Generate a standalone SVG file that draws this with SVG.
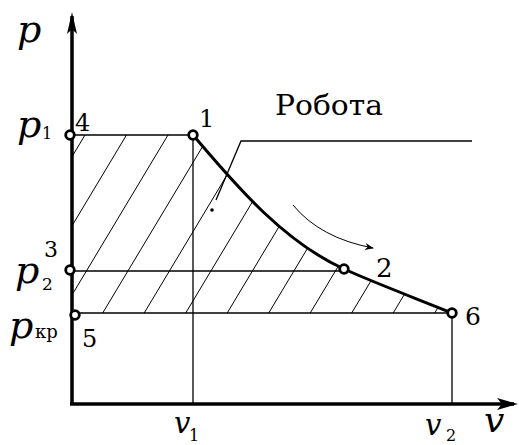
<svg xmlns="http://www.w3.org/2000/svg" width="519" height="445" viewBox="0 0 519 445">
<style>
.thin{stroke:#000;stroke-width:1.3;fill:none}
.hatch{stroke:#000;stroke-width:1;fill:none}
.axis{stroke:#000;stroke-width:3.5;fill:none}
.curve{stroke:#000;stroke-width:3;fill:none}
.pt{fill:#fff;stroke:#000;stroke-width:2.8}
text{font-family:'DejaVu Serif',serif;fill:#000}
.var{font-style:italic}
</style>
<defs>
<clipPath id="area">
<path d="M72,135 L193,135 C230,178 280,240 344,269 C375,283 415,298 452,313 L72,313 Z"/>
</clipPath>
<marker id="arr" viewBox="0 0 10 10" refX="9" refY="5" markerWidth="9" markerHeight="9" orient="auto" markerUnits="userSpaceOnUse">
<path d="M0,1 L10,5 L0,9 L3,5 Z" fill="#000"/>
</marker>
</defs>
<g id="hatching" clip-path="url(#area)">
<path class="hatch" d="M88,130 L-26,320 M129.5,130 L15.5,320 M171,130 L57,320 M212.5,130 L98.5,320 M254,130 L140,320 M295.5,130 L181.5,320 M337,130 L223,320 M378.5,130 L264.5,320 M420,130 L306,320 M461.5,130 L347.5,320 M503,130 L389,320 M544.5,130 L430.5,320"/>
</g>
<g id="connectors">
<line class="thin" x1="72" y1="135" x2="193" y2="135"/>
<line class="thin" x1="72" y1="271" x2="344" y2="271"/>
<line class="thin" x1="75" y1="313" x2="452" y2="313"/>
<line class="thin" x1="193" y1="135" x2="193" y2="404"/>
<line class="thin" x1="452" y1="313" x2="452" y2="404"/>
<path class="curve" d="M193,135 C230,178 280,240 344,269 C375,283 415,298 452,313"/>
<path class="thin" d="M216,200 L241,141 L472,141"/>
<circle cx="212" cy="210" r="1.8" fill="#000"/>
<path d="M293,205 Q320,238 373,248" stroke="#000" stroke-width="1" fill="none" marker-end="url(#arr)"/>
<path class="axis" d="M72,405 L72,16"/>
<path d="M72,12 L77,34 L72,29 L67,34 Z" fill="#000"/>
<path class="axis" d="M70,404 L514,404"/>
<path d="M518,404 L497,398 L502,404 L497,410 Z" fill="#000"/>
</g>
<g id="point-4"><circle class="pt" cx="70" cy="135" r="4.3"/><text x="75" y="131" font-size="24">4</text></g>
<g id="point-1"><circle class="pt" cx="193" cy="135" r="4.3"/><text x="199" y="127" font-size="24">1</text></g>
<g id="point-3"><circle class="pt" cx="70" cy="270" r="4.3"/><text x="44" y="257" font-size="22">3</text></g>
<g id="point-5"><circle class="pt" cx="75" cy="315" r="4.3"/><text x="82" y="347" font-size="24">5</text></g>
<g id="point-2"><circle class="pt" cx="344" cy="269" r="4.3"/><text x="376" y="277" font-size="26">2</text></g>
<g id="point-6"><circle class="pt" cx="452" cy="313" r="4.3"/><text x="465" y="325" font-size="25">6</text></g>
<g id="label-work"><text x="275" y="115" font-size="28" textLength="108" lengthAdjust="spacingAndGlyphs">Робота</text></g>
<g id="axis-labels">
<text class="var" x="17" y="42" font-size="38">p</text>
<text class="var" x="17" y="137" font-size="38">p</text><text x="42" y="139" font-size="16">1</text>
<text class="var" x="15" y="283" font-size="38">p</text><text x="42" y="290" font-size="17">2</text>
<text class="var" x="9" y="338" font-size="38">p</text><text x="35" y="338" font-size="18">кр</text>
<text class="var" x="174" y="433" font-size="29">v</text><text x="189" y="441" font-size="16">1</text>
<text class="var" x="425" y="435" font-size="29">v</text><text x="446" y="441" font-size="16">2</text>
<text class="var" x="484" y="432" font-size="36">v</text>
</g>
</svg>
